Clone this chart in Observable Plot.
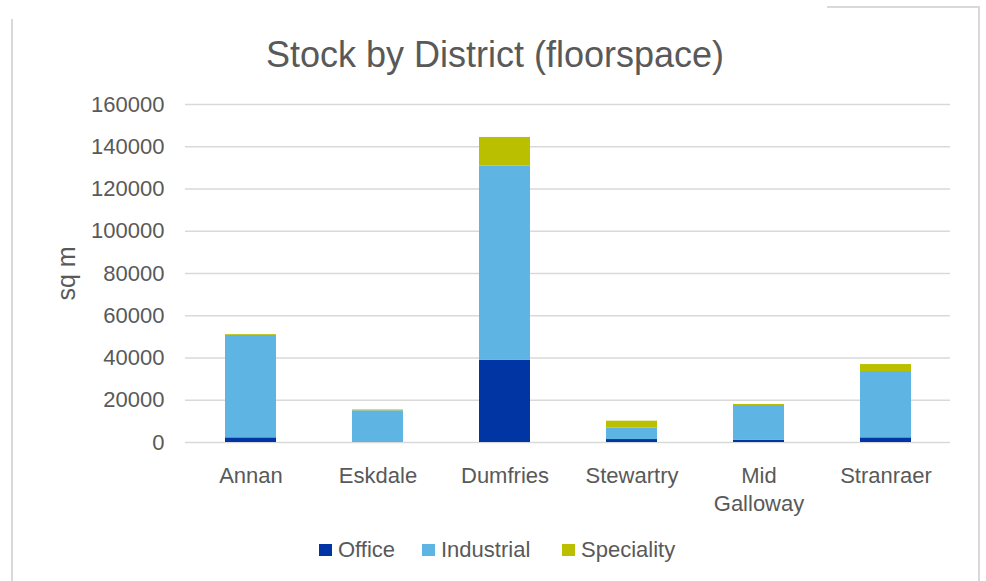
<!DOCTYPE html>
<html><head><meta charset="utf-8">
<script src="https://cdn.jsdelivr.net/npm/d3@7"></script>
<script src="https://cdn.jsdelivr.net/npm/@observablehq/plot@0.6"></script>
<style>
body{margin:0;background:#fff;font-family:"Liberation Sans",Arial,sans-serif;}
#wrap{position:relative;width:986px;height:581px;overflow:hidden;}
.ln{position:absolute;background:#d9d9d9;}
#title{position:absolute;left:2px;width:986px;top:31px;text-align:center;font-size:36px;color:#595959;white-space:nowrap;line-height:48px;}
#legend{position:absolute;top:538px;left:319px;font-size:22px;color:#595959;white-space:nowrap;line-height:24px;}
#legend span.sw{display:inline-block;width:13px;height:12px;vertical-align:middle;margin-right:6px;position:relative;top:-1px;}
#legend span.it{position:absolute;top:0;}
#chart{position:absolute;left:0;top:0;}
</style></head>
<body>
<div id="wrap">
  <div class="ln" style="left:11px;top:19px;width:2px;height:570px"></div>
  <div class="ln" style="left:827px;top:6px;width:153px;height:2px"></div>
  <div class="ln" style="left:978px;top:6px;width:2px;height:580px"></div>
  <div id="chart"></div>
  <div id="title">Stock by District (floorspace)</div>
  <div id="legend"></div>
</div>
<script>
const districts = ["Annan", "Eskdale", "Dumfries", "Stewartry", "Mid Galloway", "Stranraer"];
const series = ["Office", "Industrial", "Speciality"];
const colors = ["#0035a3", "#5eb4e2", "#bac000"];
const office = [2200, 0, 39000, 1400, 1000, 2200];
const industrial = [48500, 15000, 91800, 5400, 16500, 31400];
const speciality = [400, 400, 13600, 3300, 500, 3300];
const yTicks = [0, 20000, 40000, 60000, 80000, 100000, 120000, 140000, 160000];

const values = [office, industrial, speciality];
const data = [];
districts.forEach((d, i) => series.forEach((s, j) => data.push({district: d, series: s, value: values[j][i]})));

const chart = Plot.plot({
  width: 986, height: 581,
  marginLeft: 185, marginRight: 36, marginTop: 104, marginBottom: 139,
  style: {fontFamily: '"Liberation Sans", Arial, sans-serif', fontSize: "22px", color: "#595959", background: "transparent", overflow: "visible"},
  x: {domain: districts, paddingInner: 0.6, paddingOuter: 0.3, label: null},
  y: {domain: [0, 160000], label: null},
  color: {domain: series, range: colors},
  marks: [
    Plot.gridY(yTicks, {stroke: "#d9d9d9", strokeOpacity: 1, strokeWidth: 1.5}),
    Plot.barY(data, Plot.stackY({x: "district", y: "value", fill: "series", order: series})),
    Plot.axisY(yTicks, {tickSize: 0, tickPadding: 21, tickFormat: d => String(d), fontSize: 22, fill: "#595959", label: null}),
    Plot.axisX({tickSize: 0, tickPadding: 21, fontSize: 22, fill: "#595959", lineHeight: 1.27,
      tickFormat: d => d === "Mid Galloway" ? "Mid\nGalloway" : d, label: null}),
    Plot.text(["sq m"], {frameAnchor: "left", textAnchor: "middle", dx: -119, rotate: -90, fontSize: 25, fill: "#595959"})
  ]
});
document.getElementById("chart").appendChild(chart);

const lg = document.getElementById("legend");
const offs = [0, 103, 243];
series.forEach((s, j) => {
  const it = document.createElement("span");
  it.className = "it";
  it.style.left = offs[j] + "px";
  it.innerHTML = `<span class="sw" style="background:${colors[j]}"></span>${s}`;
  lg.appendChild(it);
});
</script>
</body></html>
